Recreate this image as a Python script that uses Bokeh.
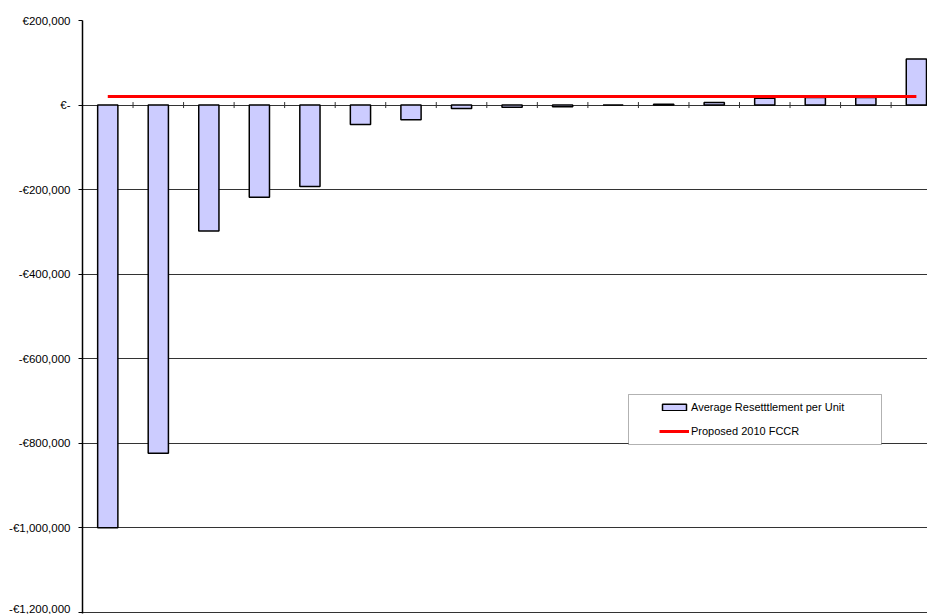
from bokeh.plotting import figure
from bokeh.models import (ColumnDataSource, FixedTicker, Range1d, Legend,
                          LegendItem, BoxAnnotation)
from bokeh.embed import file_html
from bokeh.resources import INLINE

# Average resettlement per unit, one bar per unit band (sorted)
units = list(range(1, 18))
resettlement = [-1000000, -824000, -298000, -218000, -193000, -46000, -35000,
                -8000, -5000, -4000, 0, 2000, 6000, 16000, 18000, 18000, 109000]
# Proposed 2010 FCCR level, flat across all units
fccr = [20000, 20000, 20000, 20000, 20000, 20000, 20000, 20000, 20000,
        20000, 20000, 20000, 20000, 20000, 20000, 20000, 20000]

y_ticks = [200000, 0, -200000, -400000, -600000, -800000, -1000000, -1200000]
y_tick_labels = ["€200,000", "€-", "-€200,000", "-€400,000", "-€600,000",
                 "-€800,000", "-€1,000,000", "-€1,200,000"]

FONT = "Liberation Sans"

xs = [i for i in range(len(units))]
src = ColumnDataSource(dict(x=xs, val=resettlement, fccr=fccr))

p = figure(width=927, height=614, output_backend="svg", toolbar_location=None,
           x_range=Range1d(-0.5, 16.22), y_range=Range1d(-1203000, 200000),
           min_border_left=82, min_border_right=0, min_border_top=20,
           min_border_bottom=1)
p.outline_line_color = None
p.background_fill_color = "white"
p.border_fill_color = "white"

p.xaxis.visible = False
p.xgrid.visible = False

p.yaxis.ticker = FixedTicker(ticks=y_ticks)
p.yaxis.major_label_overrides = {t: l for t, l in zip(y_ticks, y_tick_labels)}
p.yaxis.minor_tick_line_color = None
p.yaxis.major_tick_out = 4
p.yaxis.major_tick_in = 0
p.yaxis.major_tick_line_color = "black"
p.yaxis.axis_line_color = "black"
p.yaxis.axis_line_width = 1.5
p.yaxis.major_label_text_font = FONT
p.yaxis.major_label_text_font_size = "11.5px"
p.yaxis.major_label_text_color = "black"
p.yaxis.major_label_standoff = 8

p.ygrid.ticker = FixedTicker(ticks=y_ticks)
p.ygrid.grid_line_color = "#333333"
p.ygrid.grid_line_width = 1

bars = p.vbar(x="x", top="val", bottom=0, width=0.4, source=src,
              fill_color="#ccccff", line_color="black", line_width=1.5)

# category divider ticks crossing the zero line
div_src = ColumnDataSource(dict(x=[i + 0.5 for i in xs[:-1]],
                                y=[0] * (len(xs) - 1)))
p.scatter(x="x", y="y", source=div_src, marker="dash", angle=1.5708,
          size=6, line_color="#333333", line_width=1)

line = p.line(x="x", y="fccr", source=src, line_color="#ff0000", line_width=3)

# legend frame
p.add_layout(BoxAnnotation(left=628, right=881, top=394, bottom=444,
                           left_units="canvas", right_units="canvas",
                           top_units="canvas", bottom_units="canvas",
                           fill_color="white", fill_alpha=1,
                           line_color="black", line_width=1))

legend = Legend(items=[
    LegendItem(label="Average Resetttlement per Unit", renderers=[bars]),
    LegendItem(label="Proposed 2010 FCCR", renderers=[line]),
], location=(577, 172))
legend.border_line_alpha = 0
legend.background_fill_alpha = 0
legend.padding = 0
legend.margin = 0
legend.spacing = 4
legend.glyph_width = 30
legend.glyph_height = 8
legend.label_height = 20
legend.label_standoff = 2
legend.label_text_font = FONT
legend.label_text_font_size = "11px"
legend.label_text_color = "black"
p.add_layout(legend)

open("out.html", "w").write(file_html(p, INLINE))
